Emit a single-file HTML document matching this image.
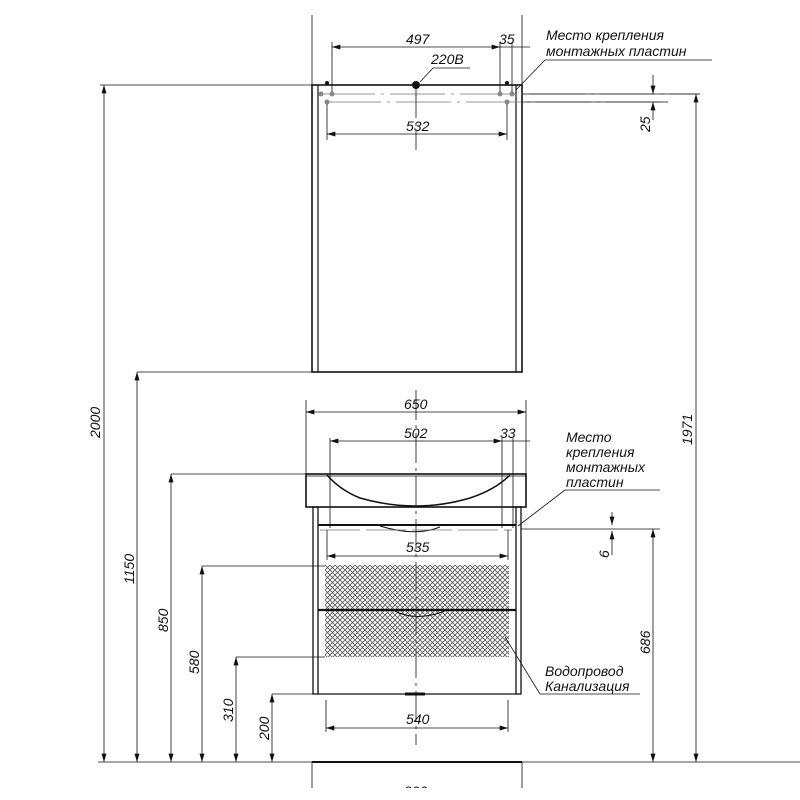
<!DOCTYPE html>
<html><head><meta charset="utf-8"><style>
html,body{margin:0;padding:0;background:#fff;width:800px;height:800px;overflow:hidden}
text{font-family:"Liberation Sans",sans-serif;font-style:italic;fill:#111}
</style></head><body>
<svg width="800" height="800" viewBox="0 0 800 800" xmlns="http://www.w3.org/2000/svg">
<defs>
<marker id="a" viewBox="0 0 10 6" refX="10" refY="3" markerWidth="9" markerHeight="5" orient="auto-start-reverse" markerUnits="userSpaceOnUse"><path d="M0,0L10,3L0,6z" fill="#111"/></marker>
<pattern id="h" width="5" height="5" patternUnits="userSpaceOnUse"><path d="M0,0L5,5M5,0L0,5" stroke="#555" stroke-width="0.8"/></pattern>
</defs>
<g stroke="#111" fill="none" stroke-width="0.8">
<line x1="312" y1="15" x2="312" y2="85"/><line x1="522" y1="15" x2="522" y2="85"/>
<rect x="312" y="85" width="210" height="287" stroke-width="1.6"/>
<line x1="318" y1="85" x2="318" y2="372" stroke-width="1.2"/><line x1="516" y1="85" x2="516" y2="372" stroke-width="1.2"/>
<line x1="320" y1="94" x2="700" y2="94" stroke="#777" stroke-dasharray="55,6,3,6"/>
<line x1="326" y1="102" x2="668" y2="102" stroke="#777" stroke-dasharray="55,6,3,6"/>
<g fill="#888" stroke="none"><circle cx="321" cy="94" r="2.5"/><circle cx="332" cy="94" r="2.5"/><circle cx="500" cy="94" r="2.5"/><circle cx="512" cy="94" r="2.5"/><circle cx="327" cy="102" r="2.5"/><circle cx="507" cy="102" r="2.5"/></g>
<g fill="#111" stroke="none"><circle cx="327" cy="83" r="2"/><circle cx="507" cy="83" r="2"/><circle cx="416" cy="85" r="4"/></g>
<line x1="416" y1="88" x2="416" y2="150" stroke-dasharray="30,5,3,5"/>
<line x1="416" y1="390" x2="416" y2="745" stroke-dasharray="30,5,3,5"/>
<line x1="332" y1="92" x2="332" y2="42"/><line x1="500" y1="92" x2="500" y2="42"/><line x1="512" y1="92" x2="512" y2="42"/>
<line x1="332" y1="47" x2="500" y2="47" marker-start="url(#a)" marker-end="url(#a)"/>
<line x1="493" y1="47" x2="530" y2="47"/>
<line x1="327" y1="104" x2="327" y2="140"/><line x1="507" y1="104" x2="507" y2="140"/>
<line x1="327" y1="134" x2="507" y2="134" marker-start="url(#a)" marker-end="url(#a)"/>
<line x1="420" y1="82" x2="433" y2="68"/><line x1="433" y1="68" x2="470" y2="68"/>
<line x1="516" y1="90" x2="545" y2="60"/><line x1="545" y1="60" x2="712" y2="60"/>
<line x1="522" y1="102" x2="668" y2="102"/>
<line x1="653" y1="75" x2="653" y2="94" marker-end="url(#a)"/>
<line x1="653" y1="120" x2="653" y2="102" marker-end="url(#a)"/>
<line x1="522" y1="94" x2="700" y2="94"/>
<line x1="696" y1="94" x2="696" y2="762" marker-start="url(#a)" marker-end="url(#a)"/>
<line x1="98" y1="762" x2="800" y2="762"/>
<line x1="104" y1="85" x2="104" y2="762" marker-start="url(#a)" marker-end="url(#a)"/>
<line x1="100" y1="85" x2="312" y2="85"/>
<line x1="137" y1="372" x2="312" y2="372"/>
<line x1="137" y1="372" x2="137" y2="762" marker-start="url(#a)" marker-end="url(#a)"/>
<line x1="171" y1="474" x2="306" y2="474"/>
<line x1="171" y1="474" x2="171" y2="762" marker-start="url(#a)" marker-end="url(#a)"/>
<line x1="202" y1="566" x2="325" y2="566"/>
<line x1="202" y1="566" x2="202" y2="762" marker-start="url(#a)" marker-end="url(#a)"/>
<line x1="236" y1="657" x2="325" y2="657"/>
<line x1="236" y1="657" x2="236" y2="762" marker-start="url(#a)" marker-end="url(#a)"/>
<line x1="272" y1="694" x2="313" y2="694"/>
<line x1="272" y1="694" x2="272" y2="762" marker-start="url(#a)" marker-end="url(#a)"/>
<line x1="306" y1="400" x2="306" y2="474"/><line x1="526" y1="400" x2="526" y2="474"/>
<line x1="306" y1="412" x2="526" y2="412" marker-start="url(#a)" marker-end="url(#a)"/>
<line x1="330" y1="438" x2="330" y2="528"/><line x1="502" y1="438" x2="502" y2="528"/><line x1="513" y1="438" x2="513" y2="528"/>
<line x1="330" y1="441" x2="502" y2="441" marker-start="url(#a)" marker-end="url(#a)"/>
<line x1="495" y1="441" x2="530" y2="441"/>
<rect x="306" y="474" width="220" height="33" stroke-width="1.6"/>
<line x1="306" y1="476" x2="526" y2="476"/>
<path d="M327,475 Q340,490 360,498 Q416,514 470,498 Q495,490 510,475" stroke-width="1.5"/>
<rect x="313" y="507" width="5" height="187" stroke-width="1.3"/>
<rect x="516" y="507" width="5" height="187" stroke-width="1.3"/>
<line x1="318" y1="525" x2="516" y2="525" stroke-width="2"/>
<path d="M380,526 Q416,537 440,527" stroke-width="1"/>
<line x1="320" y1="530" x2="512" y2="530" stroke="#777" stroke-dasharray="40,6"/>
<line x1="318" y1="694" x2="516" y2="694" stroke-width="1.3"/>
<line x1="405" y1="694" x2="425" y2="694" stroke-width="3"/>
<line x1="327" y1="530" x2="327" y2="560"/><line x1="508" y1="530" x2="508" y2="560"/>
<line x1="327" y1="556" x2="508" y2="556" marker-start="url(#a)" marker-end="url(#a)"/>
<rect x="325" y="565" width="184" height="92" fill="url(#h)" stroke="none"/>
<line x1="318" y1="610" x2="516" y2="610" stroke-width="2.2"/>
<path d="M395,611 Q416,622 445,611" stroke-width="1"/>
<line x1="326" y1="700" x2="326" y2="732"/><line x1="508" y1="700" x2="508" y2="732"/>
<line x1="326" y1="728" x2="508" y2="728" marker-start="url(#a)" marker-end="url(#a)"/>
<line x1="312" y1="762" x2="522" y2="762" stroke-width="2"/>
<line x1="312" y1="762" x2="312" y2="788"/><line x1="522" y1="762" x2="522" y2="788"/>
<line x1="518" y1="526" x2="565" y2="490"/><line x1="565" y1="490" x2="660" y2="490"/>
<line x1="505" y1="637" x2="540" y2="694"/><line x1="540" y1="694" x2="640" y2="694"/>
<line x1="521" y1="529" x2="660" y2="529"/>
<line x1="612" y1="512" x2="612" y2="525" marker-end="url(#a)"/>
<line x1="612" y1="555" x2="612" y2="531" marker-end="url(#a)"/>
<line x1="653" y1="529" x2="653" y2="762" marker-start="url(#a)" marker-end="url(#a)"/>
</g>
<g font-size="14">
<text x="406" y="44">497</text><text x="499" y="44">35</text>
<text x="431" y="64">220В</text>
<text x="406" y="131">532</text>
<text x="546" y="40">Место крепления</text>
<text x="546" y="56">монтажных пластин</text>
<text x="404" y="409">650</text>
<text x="404" y="438">502</text><text x="500" y="438">33</text>
<text x="406" y="552">535</text>
<text x="406" y="724">540</text>
<text x="404" y="796">800</text>
<text x="566" y="442">Место</text>
<text x="566" y="457">крепления</text>
<text x="566" y="472">монтажных</text>
<text x="566" y="487">пластин</text>
<text x="545" y="676">Водопровод</text>
<text x="545" y="691">Канализация</text>
<text transform="translate(650,132) rotate(-90)">25</text>
<text transform="translate(692,445) rotate(-90)">1971</text>
<text transform="translate(650,654) rotate(-90)">686</text>
<text transform="translate(609,558) rotate(-90)">6</text>
<text transform="translate(100,438) rotate(-90)">2000</text>
<text transform="translate(134,584) rotate(-90)">1150</text>
<text transform="translate(168,632) rotate(-90)">850</text>
<text transform="translate(199,674) rotate(-90)">580</text>
<text transform="translate(233,722) rotate(-90)">310</text>
<text transform="translate(269,740) rotate(-90)">200</text>
</g>
<rect x="380" y="788" width="70" height="12" fill="#fff"/>
</svg>
</body></html>
